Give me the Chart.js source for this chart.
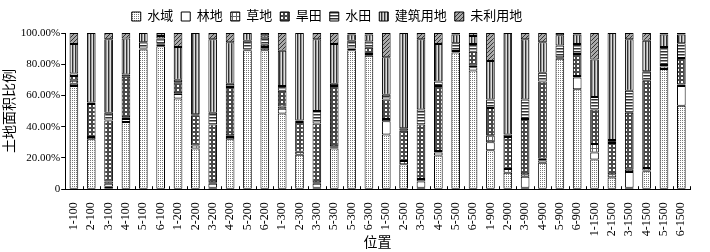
<!DOCTYPE html>
<html>
<head>
<meta charset="utf-8">
<script src="https://cdn.jsdelivr.net/npm/chart.js@4"></script>
<style>
  body { margin: 0; background: #fff; }
  #wrap { width: 710px; height: 252px; }
</style>
</head>
<body>
<div id="wrap"><canvas id="bar-chart"></canvas></div>
<script>
const categories = ["1-100", "2-100", "3-100", "4-100", "5-100", "6-100",
    "1-200", "2-200", "3-200", "4-200", "5-200", "6-200",
    "1-300", "2-300", "3-300", "5-300", "5-300", "6-300",
    "1-500", "2-500", "3-500", "4-500", "5-500", "6-500",
    "1-900", "2-900", "3-900", "4-900", "5-900", "6-900",
    "1-1500", "2-1500", "3-1500", "4-1500", "5-1500", "6-1500"];

// percentages, bottom to top
const shuiyu   = [66, 32, 1.5, 43, 89.5, 91.5, 58, 26, 1, 32, 89, 89, 48.5, 22, 1, 26, 89, 85.5, 35, 16, 1, 21.5, 87.5, 76, 25, 10.5, 1, 17, 83.5, 64, 19, 7.5, 1, 11.5, 77, 53.5];
const lindi    = [1.5, 0, 2, 2, 0, 0, 3, 0, 2.5, 1.5, 0, 0, 3, 0, 2.5, 0.5, 0, 0, 8.5, 0, 4, 2, 0, 2, 5, 0, 7, 1.5, 0, 7.5, 4.5, 0, 10, 0.5, 0, 12.5];
const caodi    = [2, 1.5, 1.5, 1, 0.5, 1, 0.5, 2, 1, 1, 0.5, 2, 1.5, 2, 1, 1, 1, 1, 1.5, 2, 1.5, 1, 1, 1, 4.5, 2.5, 1.5, 1, 1, 1, 5.5, 2, 1.5, 1.5, 1.5, 1];
const hantian  = [3, 21, 39, 26, 0, 1, 7, 19, 37, 31, 0, 1.5, 10, 19, 37.5, 38.5, 0, 4, 12.5, 19.5, 35, 41.5, 0, 9, 17.5, 20.5, 35.5, 49.5, 0, 14, 22, 20, 36.5, 56, 1, 17];
const shuitian = [1.5, 1, 5, 1.5, 4, 3, 1.5, 1, 7.5, 2, 5.5, 4.5, 3, 1, 8, 1.5, 5, 4, 3, 1.5, 9.5, 3, 5, 5, 5.5, 1.5, 12.5, 5.5, 7.5, 6.5, 8, 2, 14, 6, 11.5, 9.5];
const jianzhu  = [19, 44.5, 47, 23, 6, 1.5, 21, 52, 47, 26.5, 5, 1.5, 22.7, 56, 46, 25.5, 4, 4.5, 24, 61, 45, 24, 5.5, 5, 24.5, 65, 38.5, 19.5, 6.5, 6, 24, 68.5, 33, 19.5, 8, 5.5];
const weiliyong = [7, 0, 4, 3.5, 0, 2, 9, 0, 4, 6, 0, 1.5, 11.3, 0, 4, 7, 1, 1, 15.5, 0, 4, 7, 1, 2, 18, 0, 4, 6, 1.5, 1, 17, 0, 4, 5, 1, 1];

const seriesNames = ["水域", "林地", "草地", "旱田", "水田", "建筑用地", "未利用地"];
const yTicks = [0, 10, 20, 30, 40, 50, 60, 70, 80, 90, 100];

// small black & white fill patterns like the printed original
function pattern(w, h, draw) {
    const c = document.createElement('canvas');
    c.width = w; c.height = h;
    const g = c.getContext('2d');
    draw(g);
    return g.createPattern(c, 'repeat');
}
const pat = {
    dots: pattern(2, 2, g => {
        g.fillStyle = '#fff'; g.fillRect(0, 0, 2, 2);
        g.fillStyle = '#777'; g.fillRect(0, 0, 1, 1);
    }),
    white: '#ffffff',
    grid: pattern(4, 4, g => {
        g.fillStyle = '#fff'; g.fillRect(0, 0, 4, 4);
        g.fillStyle = '#666'; g.fillRect(0, 0, 4, 1); g.fillRect(0, 0, 1, 4);
    }),
    darkGrid: pattern(4, 4, g => {
        g.fillStyle = '#4a4a4a'; g.fillRect(0, 0, 4, 4);
        g.fillStyle = '#fff'; g.fillRect(1, 1, 2, 2);
    }),
    hLines: pattern(1, 3, g => {
        g.fillStyle = '#fff'; g.fillRect(0, 0, 1, 3);
        g.fillStyle = '#333'; g.fillRect(0, 0, 1, 1);
        g.fillStyle = '#999'; g.fillRect(0, 1, 1, 1);
    }),
    vLines: pattern(3, 1, g => {
        g.fillStyle = '#ddd'; g.fillRect(0, 0, 3, 1);
        g.fillStyle = '#333'; g.fillRect(0, 0, 1, 1);
        g.fillStyle = '#999'; g.fillRect(1, 0, 1, 1);
    }),
    diag: pattern(4, 4, g => {
        g.fillStyle = '#aaa'; g.fillRect(0, 0, 4, 4);
        g.fillStyle = '#333';
        for (let i = 0; i < 4; i++) g.fillRect(i, 3 - i, 1, 1);
    })
};
const fills = [pat.dots, pat.white, pat.grid, pat.darkGrid, pat.hLines, pat.vLines, pat.diag];
const values = [shuiyu, lindi, caodi, hantian, shuitian, jianzhu, weiliyong];

const serif = "'Times New Roman', 'Liberation Serif', Tinos, serif";
const cjk = "'Times New Roman', 'Liberation Serif', 'Noto Sans CJK SC', sans-serif";

// little tick marks between categories, pointing up from the x axis
const innerTicks = {
    id: 'innerTicks',
    afterDatasetsDraw(chart) {
        const x = chart.scales.x, y = chart.scales.y;
        const ctx = chart.ctx;
        const step = (x.right - x.left) / categories.length;
        ctx.save();
        ctx.strokeStyle = '#000';
        ctx.lineWidth = 1;
        ctx.beginPath();
        for (let i = 0; i <= categories.length; i++) {
            const px = Math.round(x.left + i * step) + 0.5;
            ctx.moveTo(px, y.bottom);
            ctx.lineTo(px, y.bottom - 3);
        }
        ctx.stroke();
        ctx.restore();
    }
};

// legend sits a bit left of centre in the original
const shiftLegend = {
    id: 'shiftLegend',
    afterLayout(chart) {
        chart.legend.left -= 19;
        chart.legend.right -= 19;
    }
};

new Chart(document.getElementById('bar-chart'), {
    type: 'bar',
    data: {
        labels: categories,
        datasets: seriesNames.map((name, i) => ({
            label: name,
            data: values[i],
            backgroundColor: fills[i],
            borderColor: '#000',
            borderWidth: 1,
            borderSkipped: false,
            barPercentage: 0.5,
            categoryPercentage: 1
        }))
    },
    options: {
        responsive: true,
        maintainAspectRatio: false,
        animation: false,
        layout: { padding: { top: 2, right: 20, left: 2, bottom: 0 } },
        plugins: {
            legend: {
                position: 'top',
                labels: {
                    boxWidth: 9,
                    boxHeight: 9,
                    padding: 8,
                    color: '#000',
                    font: { family: cjk, size: 13 }
                }
            },
            tooltip: { enabled: false }
        },
        scales: {
            x: {
                stacked: true,
                grid: { display: false },
                border: { color: '#000', width: 1 },
                ticks: {
                    minRotation: 90,
                    maxRotation: 90,
                    autoSkip: false,
                    color: '#000',
                    padding: 5,
                    font: { family: serif, size: 12 }
                },
                title: {
                    display: true,
                    text: '位置',
                    color: '#000',
                    padding: { top: -6, bottom: 0 },
                    font: { family: cjk, size: 14 }
                }
            },
            y: {
                stacked: true,
                min: 0,
                max: 100,
                afterBuildTicks(axis) {
                    axis.ticks = yTicks.map(v => ({ value: v }));
                },
                grid: { drawOnChartArea: false, tickLength: 4, color: '#000' },
                border: { color: '#000', width: 1 },
                ticks: {
                    color: '#000',
                    padding: 1,
                    font: { family: serif, size: 11 },
                    callback: v => v === 0 ? '0' : v.toFixed(2) + '%'
                },
                title: {
                    display: true,
                    text: '土地面积比例',
                    color: '#000',
                    padding: { top: 0, bottom: 1 },
                    font: { family: cjk, size: 14 }
                }
            }
        }
    },
    plugins: [innerTicks, shiftLegend]
});
</script>
</body>
</html>
